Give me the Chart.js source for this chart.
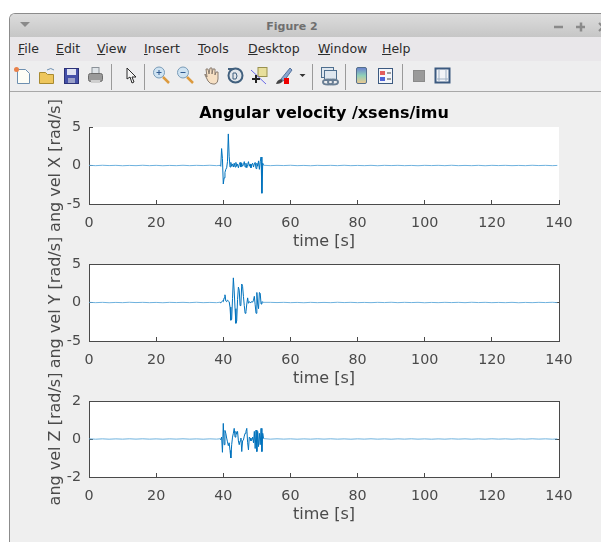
<!DOCTYPE html>
<html><head><meta charset="utf-8">
<script src="https://cdn.jsdelivr.net/npm/chart.js@4"></script>
<style>
html,body{margin:0;padding:0;background:#fff;overflow:hidden;width:601px;height:543px;font-family:"DejaVu Sans",sans-serif}
#win{position:absolute;left:9px;top:13px;width:592px;height:529px;background:#efefef;border-left:1px solid #8c8c8c;border-top:1px solid #8c8c8c;border-top-left-radius:6px;box-sizing:border-box;overflow:hidden}
#bar{position:absolute;left:0;top:0;right:0;height:23px;background:linear-gradient(#dcdcdc,#c6c6c6)}
#cap{position:absolute;width:610px;top:5px;font-size:11px;line-height:15px;font-weight:bold;color:#6f6f6f;text-align:center;left:-23px}
#menu{position:absolute;left:0;right:0;top:23px;height:24px;background:#e9e7ea;border-bottom:1px solid #a4a4a4}
#tool{position:absolute;left:0;right:0;top:47px;height:30px;background:#eeeeef;border-bottom:1px solid #a8a8a8;box-sizing:content-box}
.m{position:absolute;top:4px;font-size:12.5px;color:#2c2c2c}
.m u{text-decoration:underline}
canvas{position:absolute;left:9px}
svg{position:absolute;left:0;top:0}
</style></head><body>
<div id="win">
  <div id="bar"></div><div id="cap">Figure 2</div>
  <div id="menu">
    <span class="m" style="left:8px"><u>F</u>ile</span>
    <span class="m" style="left:46px"><u>E</u>dit</span>
    <span class="m" style="left:87px"><u>V</u>iew</span>
    <span class="m" style="left:134px"><u>I</u>nsert</span>
    <span class="m" style="left:188px"><u>T</u>ools</span>
    <span class="m" style="left:238px"><u>D</u>esktop</span>
    <span class="m" style="left:308px"><u>W</u>indow</span>
    <span class="m" style="left:372px"><u>H</u>elp</span>
  </div>
  <div id="tool"></div>
</div>
<svg width="601" height="95" viewBox="0 0 601 95">
  <path d="M20 23l5 5 5-5" transform="translate(0,-1)" fill="#8a8a8a"/>
  <path d="M554 27h9M576 27h9M581 22.500v9" stroke="#8a8a8a" stroke-width="2.500" fill="none"/>
  <path d="M599 23l3 3M599 31l3-3" stroke="#8a8a8a" stroke-width="2" fill="none"/>
  <path d="M17.500 69.500h8l4 4v10h-12z" fill="#fdfdf6" stroke="#6d8fb0"/><circle cx="16.500" cy="69.500" r="2.500" fill="#e8814a"/>
  <path d="M39.500 72.500h6l2 2h6v9h-14z" fill="#eec65c" stroke="#a88a30"/><path d="M47 70q4-3 7 0" stroke="#6d8fb0" fill="none"/>
  <rect x="64.500" y="68.500" width="14" height="15" fill="#4450a8" stroke="#2c3278"/><rect x="67" y="69" width="9" height="6" fill="#dfe3f2"/><rect x="68" y="78" width="7" height="5" fill="#9aa0c8"/>
  <rect x="92" y="67.500" width="7" height="6" fill="#dfe4e8" stroke="#8a9198"/><rect x="88.500" y="73.500" width="14" height="8" rx="2" fill="#9a9a9a" stroke="#6c6c6c"/><rect x="91" y="80" width="9" height="3" fill="#cfcfcf"/>
  <path d="M111.500 64v26M144.500 64v26M312.500 64v26M345.500 64v26M402.500 64v26" stroke="#9a9a9a"/>
  <path d="M127 68v11l3-2 2 6 2-1-2-5h4z" fill="#f4f4f4" stroke="#2a2a2a"/>
  <circle cx="159" cy="72.500" r="5.500" fill="#cfe3f2" stroke="#7a9cb8"/><path d="M163 77l6 6" stroke="#dc9a3e" stroke-width="2.500"/><path d="M156.500 72.500h5M159 70v5" stroke="#305a90"/>
  <circle cx="183" cy="72.500" r="5.500" fill="#cfe3f2" stroke="#7a9cb8"/><path d="M187 77l6 6" stroke="#dc9a3e" stroke-width="2.500"/><path d="M180.500 72.500h5" stroke="#305a90"/>
  <path d="M205 75l3 6q2 3 5 3h2q3-1 3-5v-7l-2 0-1 3v-6h-2l-1 5v-6h-2l-1 6-1-5h-2l1 8-2-3z" fill="#f6e0c4" stroke="#8a7d70"/>
  <circle cx="235.500" cy="75.500" r="7" fill="#e2e6ea" stroke="#41607e" stroke-width="2"/><path d="M233 73v6h3q2-3 0-6z" fill="none" stroke="#41607e"/><path d="M228 69h6" stroke="#41607e" stroke-width="2"/>
  <rect x="258" y="67.500" width="9" height="9" fill="#e8df9c" stroke="#99914e"/><path d="M251 70l15 14" stroke="#6a6ae6"/><path d="M256 75v8M252 79h8" stroke="#222" stroke-width="2"/>
  <path d="M281 79l9-11 2 2-8 11z" fill="#8aa6cf" stroke="#56749e"/><path d="M276 84q1-4 5-5l2 2q-2 3-7 3z" fill="#444"/><rect x="284" y="78" width="5" height="6" fill="#ee0000"/>
  <path d="M299.500 74h6l-3 3z" fill="#333"/>
  <rect x="321.500" y="67.500" width="12" height="10" fill="#dfe7ef" stroke="#4f6f8f"/><rect x="324.500" y="70.500" width="12" height="10" fill="#dfe7ef" stroke="#4f6f8f"/><ellipse cx="328" cy="82" rx="5" ry="2.500" fill="none" stroke="#6a7f95" stroke-width="2"/><ellipse cx="333" cy="82" rx="5" ry="2.500" fill="none" stroke="#6a7f95" stroke-width="2"/>
  <defs><linearGradient id="cb" x1="0" y1="0" x2="0" y2="1"><stop offset="0" stop-color="#6a7fd0"/><stop offset=".5" stop-color="#8fd0b8"/><stop offset="1" stop-color="#f0c890"/></linearGradient></defs>
  <rect x="356.500" y="67.500" width="10" height="16" rx="1.500" fill="url(#cb)" stroke="#54708c"/>
  <rect x="378.500" y="68.500" width="14" height="15" fill="#f4f6fa" stroke="#3c5a80"/><rect x="380" y="71" width="5" height="4" fill="#e25c5c"/><rect x="380" y="77" width="5" height="4" fill="#4e62d6"/><path d="M387 73h4M387 79h4" stroke="#444"/>
  <rect x="413.500" y="70.500" width="11" height="11" fill="#9a9a9a" stroke="#8a8a8a"/>
  <rect x="435.500" y="68.500" width="14" height="14" fill="#f2f4f8" stroke="#3c5a80" stroke-width="2"/><path d="M439 69v13M446 69v13M436 79h13" stroke="#9fb0c4"/>
</svg>
<canvas id="c1" width="592" height="162" style="top:92px"></canvas>
<canvas id="c2" width="592" height="161" style="top:230px"></canvas>
<canvas id="c3" width="592" height="161" style="top:366px"></canvas>
<script>
const timeBefore = [0,2,4,6,8,10,12,14,16,18,20,22,24,26,28,30,32,34,36,38];
const timeActive = [39,39.25,39.5,39.75,40,40.25,40.5,40.75,41,41.25,41.5,41.75,42,42.25,42.5,42.75,43,43.25,43.5,43.75,44,44.25,44.5,44.75,45,45.25,45.5,45.75,46,46.25,46.5,46.75,47,47.25,47.5,47.75,48,48.25,48.5,48.75,49,49.25,49.5,49.75,50,50.25,50.5,50.75,51,51.25,51.5,51.75,52];
const timeAfter = [54,56,58,60,62,64,66,68,70,72,74,76,78,80,82,84,86,88,90,92,94,96,98,100,102,104,106,108,110,112,114,116,118,120,122,124,126,128,130,132,134,136,138,139.5];

const velXBefore = [.02,-.02,.03,-.01,.02,-.03,.01,-.02,.03,-.02,.02,-.03,.01,-.02,.03,-.02,.02,-.01,.03,-.02];
const velXActive = [.02,-.1,2.2,.9,-2.4,-1.6,-.9,-.5,-.3,.5,4.1,1.2,-.2,.4,-.1,.2,-.2,.3,-.2,.4,-.1,.2,-.3,.1,.4,-.2,.3,-.1,.1,.5,-.2,.3,-.3,.1,.5,-.1,.2,-.3,.1,.3,-.2,.2,.4,-.4,.3,-.1,.6,-.5,.5,1.1,-3.6,.3,.03];
const velXAfter = [-.02,.02,-.01,.03,-.02,.01,-.03,.02,-.01,.02,-.02,.03,-.02,.01,-.02,.02,-.03,.02,-.01,.02,-.02,.01,-.03,.02,-.01,.02,-.02,.03,-.02,.01,-.02,.02,-.03,.02,-.01,.02,-.02,.01,-.02,.03,-.01,.02,-.02,.01];

const velYBefore = [.02,-.02,.02,-.03,.01,-.02,.03,-.01,.02,-.02,.01,-.03,.02,-.01,.02,-.02,.03,-.02,.01,-.02];
const velYActive = [.03,-.05,.1,.2,.1,.6,1,.2,.1,.3,.2,.1,-.6,-2.3,-2.2,.5,3.2,1.5,-.8,-2.7,-2.4,.4,2,1.6,-.4,-.2,2.4,2.1,.8,-.4,-1.4,-1.2,-.2,.6,-.1,.1,0,.05,.1,.05,.3,.8,-.3,-1.4,1.3,-.2,-.8,1.3,1.2,-.2,.1,.05,.02];
const velYAfter = [.02,-.01,.02,-.02,.01,-.03,.02,-.02,.01,-.02,.03,-.01,.02,-.02,.01,-.02,.02,-.01,.03,-.02,.02,-.01,.02,-.03,.01,-.02,.02,-.01,.02,-.02,.03,-.01,.02,-.02,.01,-.02,.02,-.03,.01,-.02,.02,-.01,.03,-.02];

const velZBefore = [.01,-.01,.008,-.01,.006,-.008,.01,-.006,.01,-.008,.006,-.01,.008,-.006,.01,-.008,.006,-.01,.008,-.006];
const velZActive = [.01,-.03,.1,-.7,.82,-.3,.45,.3,.05,-.15,-.35,-.2,-.6,-1,-.3,.1,.3,.56,.1,.4,.25,.4,-.1,-.3,-.1,.05,-.66,-.1,-.05,.15,.3,.4,.56,-.2,-.57,.1,.05,-.1,-.05,.1,-.2,.4,-.5,.47,-.66,.4,-.4,.3,-.3,.56,-.66,.3,.02];
const velZAfter = [-.008,.01,-.006,.008,-.01,.006,-.008,.01,-.006,.01,-.008,.006,-.01,.008,-.006,.01,-.008,.006,-.01,.008,-.006,.01,-.008,.006,-.01,.006,-.008,.01,-.006,.008,-.01,.006,-.008,.01,-.006,.008,-.01,.006,-.008,.01,-.006,.008,-.01,.006];

const timeTicksMax = 140, timeStep = 20;
const yLabels = ['ang vel X [rad/s]','ang vel Y [rad/s]','ang vel Z [rad/s]'];
const xLabel = 'time [s]';
const plotTitle = 'Angular velocity /xsens/imu';

const time = [...timeBefore, ...timeActive, ...timeAfter];
const INK = '#4a4a4a', LINE = '#0072BD', QUIET = '#5fa9da';
const isQuiet = ctx => ctx.p0.parsed.x < 39 || ctx.p0.parsed.x >= 52;

const paint = {
  id: 'paint',
  afterLayout(chart){
    if (chart.titleBlock && chart.options.plugins.title.display){
      chart.titleBlock.left = chart.chartArea.left;
      chart.titleBlock.right = chart.chartArea.right;
    }
  },
  beforeDraw(chart){
    const a = chart.chartArea, c = chart.ctx;
    c.save(); c.fillStyle = '#fff'; c.fillRect(a.left, a.top, a.width, a.height); c.restore();
  }
};

function make(id, values, yLabel, ymax, step, padTop, box, title){
  const hiddenAxis = {
    display: box, min: 0, grid:{drawOnChartArea:false, tickLength:-4, color:INK},
    border:{color:INK}, ticks:{display:false}
  };
  new Chart(document.getElementById(id), {
    type:'line',
    data:{datasets:[{
      data: time.map((t,i)=>({x:t,y:values[i]})),
      borderColor: LINE, borderWidth: 1, pointRadius: 0, tension: 0,
      segment:{
        borderColor: ctx => isQuiet(ctx) ? QUIET : LINE,
        borderWidth: ctx => isQuiet(ctx) ? 0.9 : 1
      }
    }]},
    plugins:[paint],
    options:{
      responsive:false, animation:false, events:[],
      layout:{padding:{left:0,right:42,top:padTop,bottom:0}},
      plugins:{
        legend:{display:false}, tooltip:{enabled:false},
        title: title ? {display:true,text:title,color:'#000',
          font:{family:'"DejaVu Sans"',size:16,weight:'bold'},padding:{top:0,bottom:3.4}} : {display:false}
      },
      scales:{
        x:{type:'linear',position:'bottom',min:0,max:timeTicksMax,
          afterFit(s){s.height=50},
          grid:{drawOnChartArea:false,tickLength:-4,color:INK},
          border:{color:INK},
          ticks:{stepSize:timeStep,color:INK,padding:15,maxRotation:0,font:{family:'"DejaVu Sans"',size:14.3}},
          title:{display:true,text:xLabel,color:INK,font:{family:'"DejaVu Sans"',size:16},padding:{top:3,bottom:3}}},
        y:{type:'linear',position:'left',min:-ymax,max:ymax,
          afterFit(s){s.width=80},
          grid:{drawOnChartArea:false,tickLength:-4,color:INK},
          border:{color:INK},
          ticks:{stepSize:step,color:INK,padding:12,font:{family:'"DejaVu Sans"',size:14.3}},
          title:{display:true,text:yLabel,color:INK,font:{family:'"DejaVu Sans"',size:16},padding:{top:37.5,bottom:37.5}}},
        xTop:{...hiddenAxis,type:'linear',position:'top',max:timeTicksMax,afterFit(s){s.height=0},
          afterBuildTicks(s){s.ticks=s.chart.scales.x.ticks.map(t=>({value:t.value}))}},
        yRight:{...hiddenAxis,type:'linear',position:'right',min:-ymax,max:ymax,afterFit(s){s.width=0},
          afterBuildTicks(s){s.ticks=s.chart.scales.y.ticks.map(t=>({value:t.value}))}}
      }
    }
  });
}
make('c1',[...velXBefore,...velXActive,...velXAfter],yLabels[0],5,5,12.4,false,plotTitle);
make('c2',[...velYBefore,...velYActive,...velYAfter],yLabels[1],5,5,34,true,null);
make('c3',[...velZBefore,...velZActive,...velZAfter],yLabels[2],2,2,35,true,null);
</script>
</body></html>
